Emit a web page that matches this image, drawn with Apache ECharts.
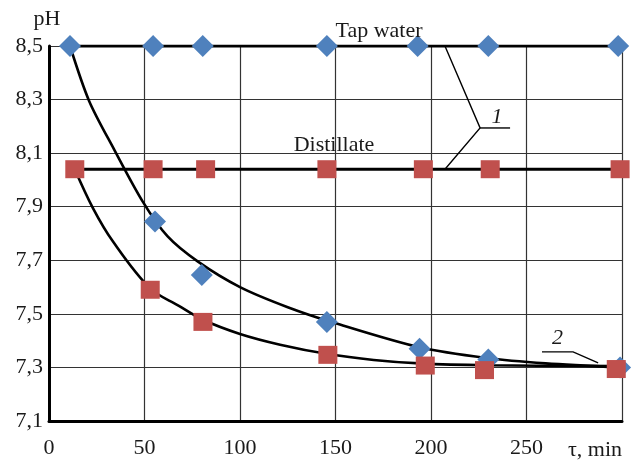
<!DOCTYPE html>
<html><head><meta charset="utf-8">
<script src="https://cdn.jsdelivr.net/npm/echarts@6/dist/echarts.min.js"></script>
<style>html,body{margin:0;padding:0;background:#fff}#c{width:640px;height:463px}</style>
</head><body><div id="c"></div>
<script>
// ---- data ----
const xMin = 0, xMax = 300, xStep = 50;
const yMin = 7.1, yMax = 8.5, yStep = 0.2;

// plateau lines (curves "1")
const tapX = [11, 54.5, 80.5, 145.5, 193, 230, 298];
const tapLevel = 8.5;
const distX = [13.5, 54.5, 82, 145.5, 196, 231, 299];
const distLevel = 8.04;

// decay measurements (curves "2")
const tapDecayX = [55.5, 80, 145.5, 194, 230, 299];
const tapDecayY = [7.845, 7.645, 7.47, 7.37, 7.33, 7.30];
const distDecayX = [53, 80.6, 146, 197, 228, 297];
const distDecayY = [7.59, 7.47, 7.347, 7.307, 7.29, 7.294];

// fitted curves
const curve1X = [11, 21, 34, 49, 62, 78, 100, 125, 150, 194, 229, 260, 299];
const curve1Y = [8.5, 8.295, 8.115, 7.92, 7.79, 7.695, 7.60, 7.525, 7.465, 7.375, 7.335, 7.315, 7.30];
const curve2X = [13.5, 23, 33.5, 53, 68, 80.6, 100, 121, 146, 170, 194, 229, 299];
const curve2Y = [8.04, 7.895, 7.77, 7.595, 7.53, 7.478, 7.425, 7.385, 7.35, 7.328, 7.315, 7.308, 7.305];

// annotation leader lines (data coords)
const leader1 = [[207.3, 8.5], [225.7, 8.194], [207.3, 8.04]];
const leader1Bar = [[225.7, 8.194], [241.4, 8.194]];
const leader2 = [[258.1, 7.358], [274.4, 7.358], [287.5, 7.317]];

const zip = (xs, ys) => xs.map((x, i) => [x, ys[i]]);
const FONT = '"Liberation Serif", "Times New Roman", serif';
const BLUE = '#4F81BD', RED = '#C0504D';

const chart = echarts.init(document.getElementById('c'), null, {renderer: 'canvas'});
const option = {
  animation: false,
  backgroundColor: '#fff',
  grid: {left: 49, right: 18, top: 46, bottom: 42, containLabel: false},
  xAxis: {
    type: 'value', min: xMin, max: xMax, interval: xStep,
    axisLine: {show: true, lineStyle: {color: '#000', width: 3}},
    axisTick: {show: false},
    splitLine: {show: true, lineStyle: {color: '#333', width: 1.2}},
    axisLabel: {color: '#1a1a1a', fontFamily: FONT, fontSize: 22, margin: 16,
      formatter: v => (v === xMax ? '' : String(v))}
  },
  yAxis: {
    type: 'value', min: yMin, max: yMax, interval: yStep,
    axisLine: {show: true, lineStyle: {color: '#000', width: 3}},
    axisTick: {show: false},
    splitLine: {show: true, lineStyle: {color: '#333', width: 1.2}},
    axisLabel: {color: '#1a1a1a', fontFamily: FONT, fontSize: 22, margin: 6,
      formatter: v => v.toFixed(1).replace('.', ',')}
  },
  series: [
    {type: 'line', data: tapX.map(x => [x, tapLevel]), symbol: 'none',
     lineStyle: {color: '#000', width: 3}, z: 3},
    {type: 'line', data: distX.map(x => [x, distLevel]), symbol: 'none',
     lineStyle: {color: '#000', width: 3}, z: 3},
    {type: 'line', data: zip(curve1X, curve1Y), symbol: 'none', smooth: 0.3,
     lineStyle: {color: '#000', width: 2.6}, z: 3},
    {type: 'line', data: zip(curve2X, curve2Y), symbol: 'none', smooth: 0.35,
     lineStyle: {color: '#000', width: 2.6}, z: 3},
    {type: 'scatter', data: tapX.map(x => [x, tapLevel]).concat(zip(tapDecayX, tapDecayY)),
     symbol: 'diamond', symbolSize: [22, 22], itemStyle: {color: BLUE, opacity: 1}, z: 5},
    {type: 'scatter', data: distX.map(x => [x, distLevel]).concat(zip(distDecayX, distDecayY)),
     symbol: 'rect', symbolSize: [19, 18], itemStyle: {color: RED, opacity: 1}, z: 6}
  ]
};
chart.setOption(option);

const px = p => chart.convertToPixel({gridIndex: 0}, p);
const poly = (pts, w) => ({type: 'polyline', shape: {points: pts.map(px)},
  style: {stroke: '#000', lineWidth: w, fill: null}, z: 10});
const txt = (x, y, s, extra) => ({type: 'text', x: x, y: y, z: 12,
  style: Object.assign({text: s, fill: '#1a1a1a', font: '22px ' + FONT, align: 'center', verticalAlign: 'middle'}, extra || {})});

const p1 = px(leader1Bar[0]), p1b = px(leader1Bar[1]);
const p2 = px(leader2[0]), p2b = px(leader2[1]);
chart.setOption({graphic: [
  poly(leader1, 1.4),
  poly(leader1Bar, 1.4),
  poly(leader2, 1.4),
  txt((p1[0] + p1b[0]) / 2 + 2, p1[1] - 11, '1', {font: 'italic 22px ' + FONT}),
  txt((p2[0] + p2b[0]) / 2, p2[1] - 14, '2', {font: 'italic 22px ' + FONT}),
  txt(379, 31, 'Tap water'),
  txt(334, 145, 'Distillate'),
  txt(47, 19, 'pH'),
  txt(595, 450, 'τ, min')
]});
</script></body></html>
